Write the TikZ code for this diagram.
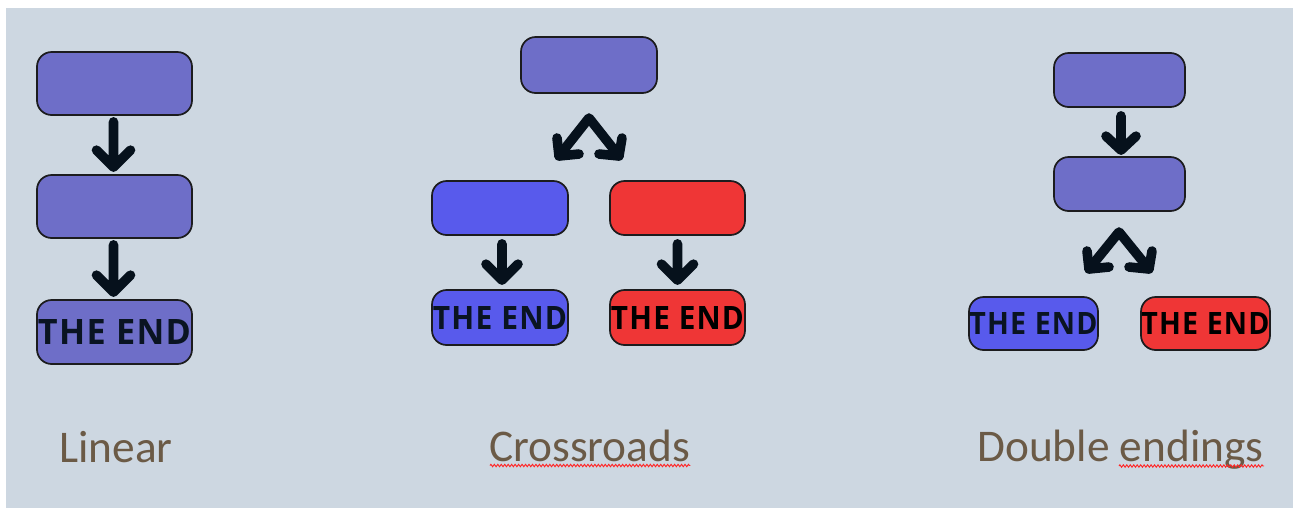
\documentclass[tikz,border=0pt]{standalone}
\usepackage{fontspec}
\setmainfont{Carlito}
\newfontfamily\endfont[LetterSpace=4]{Open Sans}
\usetikzlibrary{calc,decorations.pathmorphing}
\definecolor{bgc}{RGB}{205,215,225}
\definecolor{purp}{RGB}{110,110,200}
\definecolor{blu}{RGB}{88,90,236}
\definecolor{rd}{RGB}{239,54,54}
\definecolor{edge}{RGB}{28,28,30}
\definecolor{arrc}{RGB}{6,17,28}
\definecolor{labc}{RGB}{107,90,70}
\definecolor{endc}{RGB}{10,20,34}
\newdimen\pxu \pxu=0.75pt
\tikzset{
  box/.style 2 args={draw=edge, line width=1.3pt, rounded corners=11pt, inner sep=0pt,
     minimum width=#1*0.75pt, minimum height=#2*0.75pt},
  arr/.style={draw=arrc, line width=7.2pt, line cap=round, line join=round},
  lab/.style={anchor=base west, inner sep=0pt, text=labc, font=\fontsize{34}{37}\selectfont},
  squig/.style={draw=red!85!white, line width=0.7pt, decorate,
     decoration={zigzag, amplitude=0.9pt, segment length=2.6pt}}
}
\newcommand\theend[3]{\textcolor{#3}{\resizebox{#1\pxu}{#2\pxu}{\endfont\bfseries THE END}}}
\begin{document}
\begin{tikzpicture}[x=0.75pt,y=-0.75pt]
\useasboundingbox (0,0) rectangle (1293,508);
\fill[bgc] (6,8) rectangle (1293,508);

% ---------- Linear ----------
\node[box={155}{63}, fill=purp] (l1) at (114.5,83.5) {};
\node[box={155}{63}, fill=purp] (l2) at (114.5,206.5) {};
\node[box={155}{64}, fill=purp] (l3) at (114.5,332) {\theend{153}{25}{endc}};
\coordinate (la1s) at ($(l1.south)+(-1,6)$);
\coordinate (la1t) at ($(l2.north)+(-1,-7)$);
\draw[arr] (la1s) -- (la1t) (la1t) ++(-17,-17) -- (la1t) -- ++(17,-17);
\coordinate (la2s) at ($(l2.south)+(-1,6)$);
\coordinate (la2t) at ($(l3.north)+(-1,-7)$);
\draw[arr] (la2s) -- (la2t) (la2t) ++(-17,-17) -- (la2t) -- ++(17,-17);
\node[lab] (linlab) at (59,462) {Linear};

% ---------- Crossroads ----------
\node[box={136}{56}, fill=purp] (c0) at (589,65) {};
\node[box={136}{54}, fill=blu] (cb) at (500,208) {};
\node[box={135}{54}, fill=rd] (cr) at (677.5,208) {};
\node[box={136}{55}, fill=blu] (cbe) at (500,317.5) {\theend{134}{23}{endc}};
\node[box={135}{55}, fill=rd] (cre) at (677.5,317.5) {\theend{133}{23}{black}};
\coordinate (cap) at (589,118);
\coordinate (cl) at (559,156);
\coordinate (crt) at (619,156);
\draw[arr] (cl) -- (cap) -- (crt);
\draw[arr] (cl) ++(-2,-18) -- (cl) -- ++(20,-2);
\draw[arr] (crt) ++(3,-18) -- (crt) -- ++(-20,-2);
\coordinate (cbs) at ($(cb.south)+(2,8)$);
\coordinate (cbt) at ($(cbe.north)+(2,-9)$);
\draw[arr] (cbs) -- (cbt) (cbt) ++(-16,-16) -- (cbt) -- ++(16,-16);
\coordinate (crs) at ($(cr.south)+(0,8)$);
\coordinate (crtt) at ($(cre.north)+(0,-9)$);
\draw[arr] (crs) -- (crtt) (crtt) ++(-16,-16) -- (crtt) -- ++(16,-16);
\node[lab] (crlab) at (489,461) {Crossroads};
\draw[squig] ($(crlab.base west)+(1,4.5)$) -- ($(crlab.base east)+(0,4.5)$);

% ---------- Double endings ----------
\node[box={131}{54}, fill=purp] (d1) at (1119.5,80) {};
\node[box={131}{54}, fill=purp] (d2) at (1119.5,184) {};
\node[box={129}{53}, fill=blu] (dbe) at (1033.5,323.5) {\theend{128}{22}{endc}};
\node[box={129}{53}, fill=rd] (dre) at (1205.5,323.5) {\theend{128}{22}{black}};
\coordinate (das) at ($(d1.south)+(1.5,8)$);
\coordinate (dat) at ($(d2.north)+(1.5,-6)$);
\draw[arr] (das) -- (dat) (dat) ++(-15,-14) -- (dat) -- ++(15,-14);
\coordinate (dap) at (1119,232);
\coordinate (dl) at (1089,269);
\coordinate (drt) at (1149,269);
\draw[arr] (dl) -- (dap) -- (drt);
\draw[arr] (dl) ++(-2,-18) -- (dl) -- ++(20,-2);
\draw[arr] (drt) ++(3,-18) -- (drt) -- ++(-20,-2);
\node[lab] (dblab) at (977,461) {Double endings};
\coordinate (sq1) at (1119,466);
\coordinate (sq2) at (1264,466);
\draw[squig] (sq1) -- (sq2);
\end{tikzpicture}
\end{document}
